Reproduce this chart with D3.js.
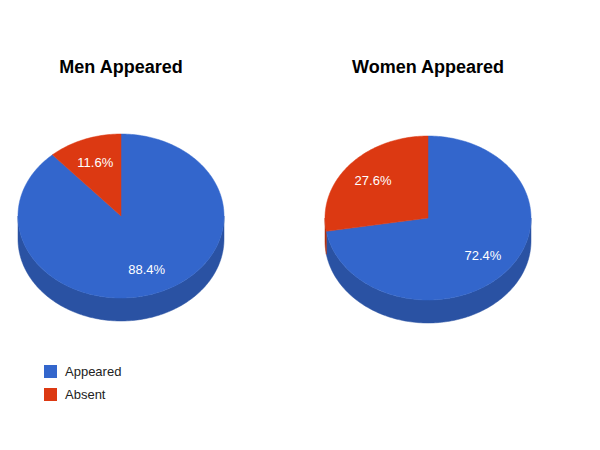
<!DOCTYPE html>
<html><head><meta charset="utf-8">
<script src="https://cdn.jsdelivr.net/npm/d3@7"></script>
<style>body{margin:0;background:#fff}</style></head>
<body><svg id="c" width="600" height="450"></svg>
<script>
const categories = ["Appeared", "Absent"];
const menValues = [88.4, 11.6];
const womenValues = [72.4, 27.6];
const titles = ["Men Appeared", "Women Appeared"];
const colors = ["#3366cc", "#dc3912"];
const sideColors = ["#2a52a3", "#b02e0e"];

const svg = d3.select("#c");
const pies = [
  {vals: menValues, cx: 121, cy: 216, title: titles[0]},
  {vals: womenValues, cx: 428, cy: 218, title: titles[1]}
];
const rx = 103, ry = 82, depth = 23;
const line = d3.line();

pies.forEach(p => {
  const g = svg.append("g");
  const arcs = d3.pie().sort(null)(p.vals);
  const pt = (t, dy=0) => [p.cx + rx*Math.sin(t), p.cy - ry*Math.cos(t) + dy];
  const samples = (a, b) => { const n = Math.max(2, Math.ceil((b-a)/0.02)); return d3.range(n+1).map(i => a + (b-a)*i/n); };
  // side walls
  arcs.forEach((a, i) => {
    const s = Math.max(a.startAngle, Math.PI/2), e = Math.min(a.endAngle, 3*Math.PI/2);
    if (e > s) {
      const ts = samples(s, e);
      const pts = ts.map(t => pt(t)).concat(ts.slice().reverse().map(t => pt(t, depth)));
      g.append("path").attr("d", line(pts) + "Z").attr("fill", sideColors[i]).attr("stroke", sideColors[i]).attr("stroke-width", 0.5);
    }
  });
  // tops
  arcs.forEach((a, i) => {
    const pts = [[p.cx, p.cy]].concat(samples(a.startAngle, a.endAngle).map(t => pt(t)));
    g.append("path").attr("d", line(pts) + "Z").attr("fill", colors[i]).attr("stroke", colors[i]).attr("stroke-width", 0.5);
  });
  // labels
  arcs.forEach(a => {
    const m = (a.startAngle + a.endAngle)/2;
    g.append("text").attr("x", p.cx + rx*0.7*Math.sin(m)).attr("y", p.cy - ry*0.7*Math.cos(m))
      .attr("text-anchor", "middle").attr("dy", "0.35em").attr("fill", "#fff")
      .attr("font-family", "Arial, Liberation Sans").attr("font-size", 13)
      .text(a.data.toFixed(1) + "%");
  });
  svg.append("text").attr("x", p.cx).attr("y", 73).attr("text-anchor", "middle")
    .attr("font-family", "Arial, Liberation Sans").attr("font-weight", "bold").attr("font-size", 18)
    .attr("fill", "#000").text(p.title);
});

categories.forEach((c, i) => {
  svg.append("rect").attr("x", 44).attr("y", 365 + i*23).attr("width", 13).attr("height", 13).attr("fill", colors[i]);
  svg.append("text").attr("x", 65).attr("y", 376 + i*23).attr("font-family", "Arial, Liberation Sans")
    .attr("font-size", 13).attr("fill", "#222").text(c);
});
</script></body></html>
